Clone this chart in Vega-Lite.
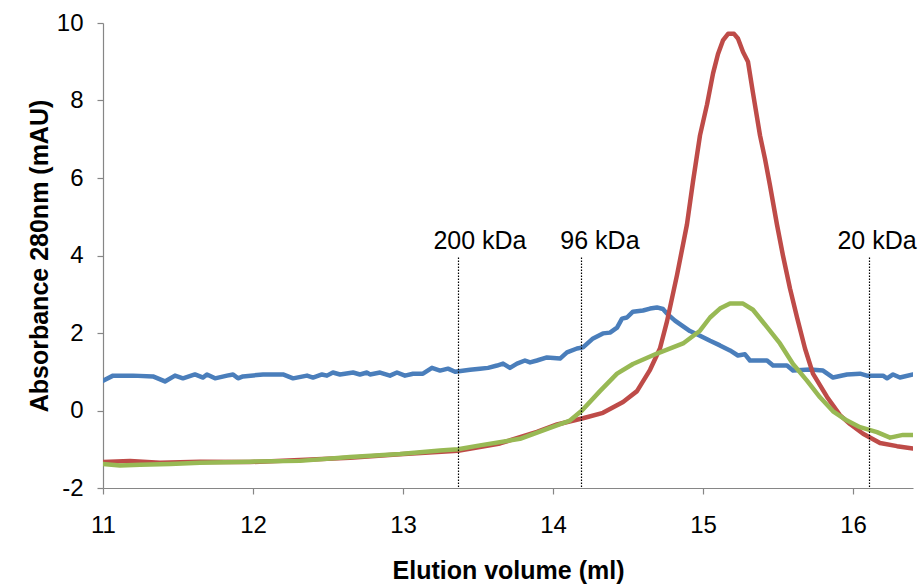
{
  "$schema": "https://vega.github.io/schema/vega-lite/v6.json",
  "autosize": {"type": "none"},
  "width": 810,
  "height": 465,
  "padding": {"left": 103, "top": 23, "right": 9, "bottom": 98},
  "background": "white",
  "config": {
    "view": {"stroke": null},
    "font": "Liberation Sans",
    "axis": {
      "grid": false,
      "domainColor": "#868686",
      "tickColor": "#868686",
      "domainWidth": 1.2,
      "tickWidth": 1.2,
      "tickSize": 6,
      "labelColor": "black",
      "titleColor": "black",
      "labelFont": "Liberation Sans",
      "titleFont": "Liberation Sans",
      "labelFontSize": 24,
      "titleFontSize": 25,
      "titleFontWeight": "bold"
    }
  },
  "datasets": {
    "curves": [
      {"ml": 11.000, "abs": 0.77, "run": "A"},
      {"ml": 11.067, "abs": 0.90, "run": "A"},
      {"ml": 11.200, "abs": 0.90, "run": "A"},
      {"ml": 11.333, "abs": 0.88, "run": "A"},
      {"ml": 11.413, "abs": 0.75, "run": "A"},
      {"ml": 11.480, "abs": 0.90, "run": "A"},
      {"ml": 11.533, "abs": 0.83, "run": "A"},
      {"ml": 11.613, "abs": 0.93, "run": "A"},
      {"ml": 11.667, "abs": 0.85, "run": "A"},
      {"ml": 11.693, "abs": 0.93, "run": "A"},
      {"ml": 11.747, "abs": 0.83, "run": "A"},
      {"ml": 11.827, "abs": 0.90, "run": "A"},
      {"ml": 11.867, "abs": 0.93, "run": "A"},
      {"ml": 11.900, "abs": 0.83, "run": "A"},
      {"ml": 11.933, "abs": 0.88, "run": "A"},
      {"ml": 12.067, "abs": 0.93, "run": "A"},
      {"ml": 12.200, "abs": 0.93, "run": "A"},
      {"ml": 12.267, "abs": 0.83, "run": "A"},
      {"ml": 12.360, "abs": 0.90, "run": "A"},
      {"ml": 12.400, "abs": 0.85, "run": "A"},
      {"ml": 12.460, "abs": 0.93, "run": "A"},
      {"ml": 12.493, "abs": 0.90, "run": "A"},
      {"ml": 12.533, "abs": 0.98, "run": "A"},
      {"ml": 12.580, "abs": 0.93, "run": "A"},
      {"ml": 12.667, "abs": 0.98, "run": "A"},
      {"ml": 12.713, "abs": 0.93, "run": "A"},
      {"ml": 12.760, "abs": 0.98, "run": "A"},
      {"ml": 12.780, "abs": 0.93, "run": "A"},
      {"ml": 12.847, "abs": 0.98, "run": "A"},
      {"ml": 12.913, "abs": 0.90, "run": "A"},
      {"ml": 12.960, "abs": 0.98, "run": "A"},
      {"ml": 13.013, "abs": 0.90, "run": "A"},
      {"ml": 13.067, "abs": 0.95, "run": "A"},
      {"ml": 13.133, "abs": 0.95, "run": "A"},
      {"ml": 13.193, "abs": 1.10, "run": "A"},
      {"ml": 13.247, "abs": 1.03, "run": "A"},
      {"ml": 13.300, "abs": 1.08, "run": "A"},
      {"ml": 13.347, "abs": 1.00, "run": "A"},
      {"ml": 13.447, "abs": 1.05, "run": "A"},
      {"ml": 13.513, "abs": 1.08, "run": "A"},
      {"ml": 13.567, "abs": 1.10, "run": "A"},
      {"ml": 13.627, "abs": 1.16, "run": "A"},
      {"ml": 13.667, "abs": 1.21, "run": "A"},
      {"ml": 13.713, "abs": 1.10, "run": "A"},
      {"ml": 13.760, "abs": 1.21, "run": "A"},
      {"ml": 13.813, "abs": 1.29, "run": "A"},
      {"ml": 13.847, "abs": 1.24, "run": "A"},
      {"ml": 13.893, "abs": 1.29, "run": "A"},
      {"ml": 13.960, "abs": 1.37, "run": "A"},
      {"ml": 14.047, "abs": 1.34, "run": "A"},
      {"ml": 14.093, "abs": 1.50, "run": "A"},
      {"ml": 14.160, "abs": 1.60, "run": "A"},
      {"ml": 14.200, "abs": 1.63, "run": "A"},
      {"ml": 14.267, "abs": 1.86, "run": "A"},
      {"ml": 14.333, "abs": 1.99, "run": "A"},
      {"ml": 14.380, "abs": 2.01, "run": "A"},
      {"ml": 14.427, "abs": 2.14, "run": "A"},
      {"ml": 14.460, "abs": 2.37, "run": "A"},
      {"ml": 14.493, "abs": 2.40, "run": "A"},
      {"ml": 14.533, "abs": 2.55, "run": "A"},
      {"ml": 14.600, "abs": 2.58, "run": "A"},
      {"ml": 14.647, "abs": 2.63, "run": "A"},
      {"ml": 14.693, "abs": 2.66, "run": "A"},
      {"ml": 14.733, "abs": 2.62, "run": "A"},
      {"ml": 14.760, "abs": 2.50, "run": "A"},
      {"ml": 14.813, "abs": 2.32, "run": "A"},
      {"ml": 14.913, "abs": 2.05, "run": "A"},
      {"ml": 14.980, "abs": 1.93, "run": "A"},
      {"ml": 15.047, "abs": 1.80, "run": "A"},
      {"ml": 15.113, "abs": 1.68, "run": "A"},
      {"ml": 15.180, "abs": 1.55, "run": "A"},
      {"ml": 15.233, "abs": 1.42, "run": "A"},
      {"ml": 15.280, "abs": 1.45, "run": "A"},
      {"ml": 15.313, "abs": 1.29, "run": "A"},
      {"ml": 15.427, "abs": 1.29, "run": "A"},
      {"ml": 15.467, "abs": 1.16, "run": "A"},
      {"ml": 15.560, "abs": 1.16, "run": "A"},
      {"ml": 15.600, "abs": 1.03, "run": "A"},
      {"ml": 15.713, "abs": 1.06, "run": "A"},
      {"ml": 15.800, "abs": 1.03, "run": "A"},
      {"ml": 15.867, "abs": 0.85, "run": "A"},
      {"ml": 15.960, "abs": 0.93, "run": "A"},
      {"ml": 16.047, "abs": 0.95, "run": "A"},
      {"ml": 16.093, "abs": 0.90, "run": "A"},
      {"ml": 16.200, "abs": 0.90, "run": "A"},
      {"ml": 16.227, "abs": 0.83, "run": "A"},
      {"ml": 16.267, "abs": 0.93, "run": "A"},
      {"ml": 16.313, "abs": 0.85, "run": "A"},
      {"ml": 16.400, "abs": 0.93, "run": "A"},

      {"ml": 11.000, "abs": -1.33, "run": "B"},
      {"ml": 11.180, "abs": -1.30, "run": "B"},
      {"ml": 11.380, "abs": -1.35, "run": "B"},
      {"ml": 11.647, "abs": -1.32, "run": "B"},
      {"ml": 11.980, "abs": -1.33, "run": "B"},
      {"ml": 12.313, "abs": -1.28, "run": "B"},
      {"ml": 12.647, "abs": -1.22, "run": "B"},
      {"ml": 12.980, "abs": -1.13, "run": "B"},
      {"ml": 13.367, "abs": -1.04, "run": "B"},
      {"ml": 13.647, "abs": -0.85, "run": "B"},
      {"ml": 13.893, "abs": -0.55, "run": "B"},
      {"ml": 14.027, "abs": -0.36, "run": "B"},
      {"ml": 14.200, "abs": -0.20, "run": "B"},
      {"ml": 14.333, "abs": -0.06, "run": "B"},
      {"ml": 14.467, "abs": 0.22, "run": "B"},
      {"ml": 14.560, "abs": 0.50, "run": "B"},
      {"ml": 14.647, "abs": 1.05, "run": "B"},
      {"ml": 14.713, "abs": 1.60, "run": "B"},
      {"ml": 14.760, "abs": 2.30, "run": "B"},
      {"ml": 14.827, "abs": 3.50, "run": "B"},
      {"ml": 14.893, "abs": 4.80, "run": "B"},
      {"ml": 14.933, "abs": 5.90, "run": "B"},
      {"ml": 14.980, "abs": 7.10, "run": "B"},
      {"ml": 15.027, "abs": 7.90, "run": "B"},
      {"ml": 15.067, "abs": 8.70, "run": "B"},
      {"ml": 15.100, "abs": 9.20, "run": "B"},
      {"ml": 15.133, "abs": 9.55, "run": "B"},
      {"ml": 15.167, "abs": 9.72, "run": "B"},
      {"ml": 15.207, "abs": 9.72, "run": "B"},
      {"ml": 15.233, "abs": 9.60, "run": "B"},
      {"ml": 15.267, "abs": 9.25, "run": "B"},
      {"ml": 15.300, "abs": 9.00, "run": "B"},
      {"ml": 15.333, "abs": 8.20, "run": "B"},
      {"ml": 15.380, "abs": 7.10, "run": "B"},
      {"ml": 15.413, "abs": 6.50, "run": "B"},
      {"ml": 15.447, "abs": 5.80, "run": "B"},
      {"ml": 15.493, "abs": 4.80, "run": "B"},
      {"ml": 15.533, "abs": 4.00, "run": "B"},
      {"ml": 15.580, "abs": 3.15, "run": "B"},
      {"ml": 15.627, "abs": 2.40, "run": "B"},
      {"ml": 15.680, "abs": 1.60, "run": "B"},
      {"ml": 15.733, "abs": 0.95, "run": "B"},
      {"ml": 15.827, "abs": 0.35, "run": "B"},
      {"ml": 15.913, "abs": -0.12, "run": "B"},
      {"ml": 15.980, "abs": -0.35, "run": "B"},
      {"ml": 16.067, "abs": -0.60, "run": "B"},
      {"ml": 16.180, "abs": -0.84, "run": "B"},
      {"ml": 16.293, "abs": -0.92, "run": "B"},
      {"ml": 16.400, "abs": -0.98, "run": "B"},

      {"ml": 11.000, "abs": -1.38, "run": "C"},
      {"ml": 11.113, "abs": -1.42, "run": "C"},
      {"ml": 11.247, "abs": -1.40, "run": "C"},
      {"ml": 11.447, "abs": -1.38, "run": "C"},
      {"ml": 11.647, "abs": -1.35, "run": "C"},
      {"ml": 11.980, "abs": -1.32, "run": "C"},
      {"ml": 12.313, "abs": -1.30, "run": "C"},
      {"ml": 12.647, "abs": -1.20, "run": "C"},
      {"ml": 12.980, "abs": -1.12, "run": "C"},
      {"ml": 13.247, "abs": -1.03, "run": "C"},
      {"ml": 13.367, "abs": -1.00, "run": "C"},
      {"ml": 13.513, "abs": -0.90, "run": "C"},
      {"ml": 13.780, "abs": -0.73, "run": "C"},
      {"ml": 13.980, "abs": -0.45, "run": "C"},
      {"ml": 14.113, "abs": -0.26, "run": "C"},
      {"ml": 14.193, "abs": 0.00, "run": "C"},
      {"ml": 14.313, "abs": 0.50, "run": "C"},
      {"ml": 14.427, "abs": 0.95, "run": "C"},
      {"ml": 14.533, "abs": 1.20, "run": "C"},
      {"ml": 14.693, "abs": 1.47, "run": "C"},
      {"ml": 14.867, "abs": 1.73, "run": "C"},
      {"ml": 14.980, "abs": 2.06, "run": "C"},
      {"ml": 15.047, "abs": 2.40, "run": "C"},
      {"ml": 15.113, "abs": 2.63, "run": "C"},
      {"ml": 15.180, "abs": 2.76, "run": "C"},
      {"ml": 15.267, "abs": 2.76, "run": "C"},
      {"ml": 15.333, "abs": 2.60, "run": "C"},
      {"ml": 15.427, "abs": 2.15, "run": "C"},
      {"ml": 15.513, "abs": 1.73, "run": "C"},
      {"ml": 15.600, "abs": 1.20, "run": "C"},
      {"ml": 15.693, "abs": 0.77, "run": "C"},
      {"ml": 15.780, "abs": 0.34, "run": "C"},
      {"ml": 15.867, "abs": -0.02, "run": "C"},
      {"ml": 15.960, "abs": -0.26, "run": "C"},
      {"ml": 16.047, "abs": -0.43, "run": "C"},
      {"ml": 16.160, "abs": -0.56, "run": "C"},
      {"ml": 16.247, "abs": -0.70, "run": "C"},
      {"ml": 16.333, "abs": -0.63, "run": "C"},
      {"ml": 16.400, "abs": -0.63, "run": "C"}
    ],
    "markers": [
      {"ml": 13.37, "top": 3.95, "bottom": -2, "label": "200 kDa", "labelAt": 13.513, "labelY": 4.18},
      {"ml": 14.19, "top": 3.95, "bottom": -2, "label": "96 kDa", "labelAt": 14.313, "labelY": 4.18},
      {"ml": 16.11, "top": 3.95, "bottom": -2, "label": "20 kDa", "labelAt": 16.16, "labelY": 4.18}
    ]
  },
  "layer": [
    {
      "data": {"name": "curves"},
      "mark": {"type": "line", "strokeWidth": 4.5, "strokeJoin": "round", "strokeCap": "round", "clip": true},
      "encoding": {
        "x": {
          "field": "ml", "type": "quantitative",
          "scale": {"domain": [11, 16.4], "nice": false, "zero": false},
          "axis": {"values": [11, 12, 13, 14, 15, 16], "format": "d", "title": "Elution volume (ml)", "labelPadding": 19, "titlePadding": 21, "labelFlush": false}
        },
        "y": {
          "field": "abs", "type": "quantitative",
          "scale": {"domain": [-2, 10], "nice": false, "zero": false},
          "axis": {"values": [-2, 0, 2, 4, 6, 8, 10], "labelExpr": "'' + datum.value", "title": "Absorbance 280nm (mAU)", "labelPadding": 14, "titlePadding": 4}
        },
        "color": {
          "field": "run", "type": "nominal",
          "scale": {"domain": ["A", "B", "C"], "range": ["#4A7EBB", "#BE4B48", "#98B954"]},
          "legend": null
        },
        "order": {"field": "ml", "type": "quantitative"}
      }
    },
    {
      "data": {"name": "markers"},
      "mark": {"type": "rule", "color": "black", "strokeWidth": 1.2, "strokeDash": [1.5, 1.5]},
      "encoding": {
        "x": {"field": "ml", "type": "quantitative"},
        "y": {"field": "top", "type": "quantitative"},
        "y2": {"field": "bottom"}
      }
    },
    {
      "data": {"name": "markers"},
      "mark": {"type": "text", "font": "Liberation Sans", "fontSize": 25, "color": "black", "align": "center", "baseline": "alphabetic"},
      "encoding": {
        "x": {"field": "labelAt", "type": "quantitative"},
        "y": {"field": "labelY", "type": "quantitative"},
        "text": {"field": "label"}
      }
    }
  ]
}
